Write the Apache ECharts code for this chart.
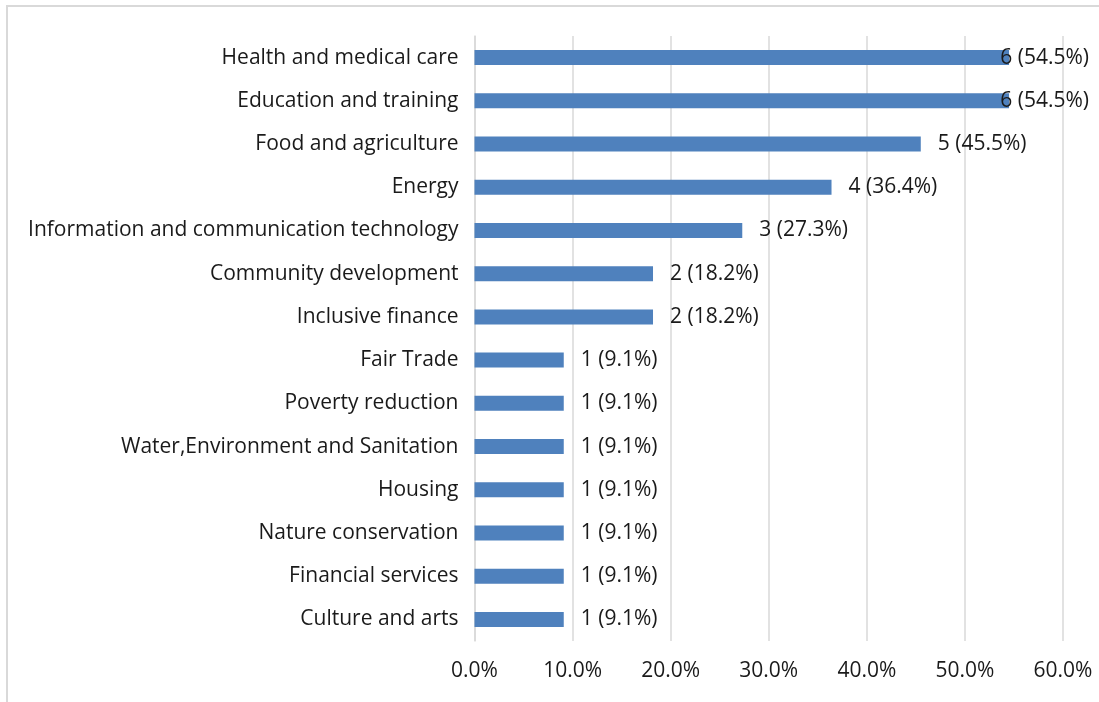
<!DOCTYPE html>
<html>
<head>
<meta charset="utf-8">
<script src="https://cdn.jsdelivr.net/npm/echarts@6/dist/echarts.min.js"></script>
<style>html,body{margin:0;padding:0;background:#fff}#c{width:1099px;height:702px}</style>
</head>
<body>
<div id="c"></div>
<script>
const categories = ["Health and medical care","Education and training","Food and agriculture","Energy","Information and communication technology","Community development","Inclusive finance","Fair Trade","Poverty reduction","Water,Environment and Sanitation","Housing","Nature conservation","Financial services","Culture and arts"];
const counts = [6,6,5,4,3,2,2,1,1,1,1,1,1,1];
const percents = [54.5,54.5,45.5,36.4,27.3,18.2,18.2,9.1,9.1,9.1,9.1,9.1,9.1,9.1];
const xTicks = [0,10,20,30,40,50,60];

const FONT = 'Open Sans';
const chart = echarts.init(document.getElementById('c'), null, {renderer:'canvas'});
chart.setOption({
  animation:false,
  backgroundColor:'#fff',
  graphic:[{type:'rect',shape:{x:7,y:6,width:1200,height:800},style:{fill:'none',stroke:'#d9d9d9',lineWidth:2},silent:true}],
  grid:{left:474.5,right:36,top:36,bottom:61,containLabel:false},
  xAxis:{type:'value',min:xTicks[0],max:xTicks[xTicks.length-1],interval:10,
    axisLine:{show:false},axisTick:{show:false},
    splitLine:{show:true,lineStyle:{color:'#d9d9d9',width:1.5}},
    axisLabel:{formatter:v=>v.toFixed(1)+'%',fontFamily:FONT,fontSize:21,color:'#1a1a1a',margin:20}},
  yAxis:{type:'category',data:categories,inverse:true,
    axisLine:{show:true,lineStyle:{color:'#d9d9d9',width:1.5}},axisTick:{show:false},
    axisLabel:{fontFamily:FONT,fontSize:21,color:'#1a1a1a',margin:16,padding:[4,0,0,0]}},
  series:[{type:'bar',data:percents,barWidth:15,itemStyle:{color:'#4f81bd'},
    label:{show:true,position:'right',distance:17,fontFamily:FONT,fontSize:21,color:'#1a1a1a',padding:[4,0,0,0],
      formatter:p=>counts[p.dataIndex]+' ('+p.value.toFixed(1)+'%)'}},
  ],
  labelLayout:function(params){
    const r=params.labelRect; const lim=1089;
    if(r.x+r.width>lim){return {x:lim-r.width,y:r.y+r.height/2,align:'left',verticalAlign:'middle'};}
    return {};
  }
});
</script>
</body>
</html>
